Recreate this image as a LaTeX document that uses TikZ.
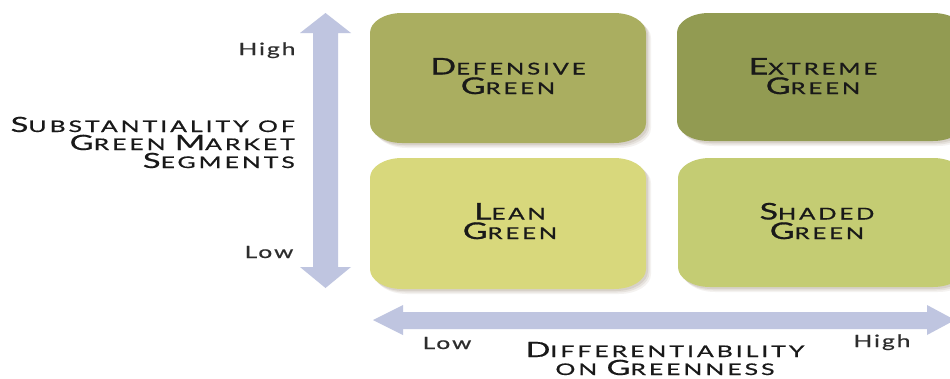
\documentclass[tikz,border=0pt]{standalone}
\usepackage{graphicx}
\usepackage{fontspec}
\setmainfont{Lato}
\newfontfamily\boxfont{Lato}[LetterSpace=12,FakeBold=0.8]
\newfontfamily\axfont{Lato}[LetterSpace=12,FakeBold=0.6]
\newfontfamily\hlfont{Lato}[LetterSpace=8,FakeBold=0.5]
\definecolor{arrowc}{RGB}{191,197,224}
\definecolor{defc}{RGB}{170,174,96}
\definecolor{extc}{RGB}{146,155,82}
\definecolor{leanc}{RGB}{216,216,124}
\definecolor{shadc}{RGB}{196,204,115}
\definecolor{shadowc}{RGB}{150,132,112}
\definecolor{txtc}{RGB}{25,25,25}
\definecolor{hlc}{RGB}{45,45,45}
\newcommand{\BoxSC}[2]{\scalebox{1.47}[1]{{\fontsize{23}{23}\selectfont #1}{\fontsize{16.3}{16.3}\selectfont #2}}}
\newcommand{\AxSC}[2]{{\fontsize{21}{21}\selectfont #1}{\fontsize{16}{16}\selectfont #2}}
\newcommand{\AxSm}[1]{{\fontsize{16}{16}\selectfont #1}}
\newcommand{\AxLine}[1]{\scalebox{1.55}[1]{#1}}
\newcommand{\HL}[1]{\scalebox{1.45}[1]{#1}}
\newcommand{\GPath}[5]{%
  \fill[#5] ({#1+32},{#2}) -- ({#3-32},{#2})
    .. controls ({#3-14},{#2}) and ({#3},{#2+9}) .. ({#3},{#2+20})
    -- ({#3},{#4-20})
    .. controls ({#3},{#4-9}) and ({#3-14},{#4}) .. ({#3-32},{#4})
    -- ({#1+32},{#4})
    .. controls ({#1+14},{#4}) and ({#1},{#4-9}) .. ({#1},{#4-20})
    -- ({#1},{#2+20})
    .. controls ({#1},{#2+9}) and ({#1+14},{#2}) .. ({#1+32},{#2}) -- cycle;}
\newcommand{\GBox}[5]{%
  \GPath{#1}{#2}{#3}{#4}{shadowc,opacity=0.10,xshift=5pt,yshift=-5pt}
  \GPath{#1}{#2}{#3}{#4}{shadowc,opacity=0.14,xshift=3.5pt,yshift=-3.5pt}
  \GPath{#1}{#2}{#3}{#4}{shadowc,opacity=0.18,xshift=2pt,yshift=-2pt}
  \GPath{#1}{#2}{#3}{#4}{#5}}
\tikzset{
  boxtxt/.style={font=\boxfont\fontsize{16.3}{19.5}\selectfont, text=txtc, inner sep=0pt, align=center, anchor=base},
  axtxt/.style={font=\axfont\fontsize{16}{18}\selectfont, text=txtc, inner sep=0pt},
  hltxt/.style={font=\hlfont\fontsize{17}{17}\selectfont, text=hlc, inner sep=0pt, anchor=base}
}
\begin{document}
\begin{tikzpicture}[x=1pt,y=-1pt]
\useasboundingbox (0,0) rectangle (950,378);
\clip (0,0) rectangle (950,378);
\fill[white] (0,0) rectangle (950,378);
% axis arrows
\fill[arrowc] (325.5,13) -- (351,33) -- (338,33) -- (338,267) -- (351,267)
  -- (325.5,288) -- (300,267) -- (313,267) -- (313,33) -- (300,33) -- cycle;
\fill[arrowc] (373,320) -- (403,305) -- (403,312) -- (927,312) -- (927,305)
  -- (955,320) -- (927,335) -- (927,329) -- (403,329) -- (403,335) -- cycle;
% quadrant boxes
\GBox{370}{13}{646}{143}{defc}
\GBox{677}{13}{965}{141}{extc}
\GBox{370}{158}{646}{289}{leanc}
\GBox{678}{158}{965}{287}{shadc}
% box texts (anchor = baseline of the last line)
\node[boxtxt] (def) at (508,94) {\BoxSC{D}{EFENSIVE}\\\BoxSC{G}{REEN}};
\node[boxtxt] (ext) at (813,94) {\BoxSC{E}{XTREME}\\\BoxSC{G}{REEN}};
\node[boxtxt] (lean) at (510,239) {\BoxSC{L}{EAN}\\\BoxSC{G}{REEN}};
\node[boxtxt] (shad) at (817,239) {\BoxSC{S}{HADED}\\\BoxSC{G}{REEN}};
% y axis label
\node[axtxt, align=right, anchor=base east] (ylab) at (295,168)
  {\AxLine{\AxSC{S}{UBSTANTIALITY} \AxSm{OF}}\\\AxLine{\AxSC{G}{REEN} \AxSC{M}{ARKET}}\\\AxLine{\AxSC{S}{EGMENTS}}};
% x axis label
\node[axtxt, align=center, anchor=base] (xlab) at (665,375)
  {\AxLine{\AxSC{D}{IFFERENTIABILITY}}\\\AxLine{\AxSm{ON} \AxSC{G}{REENNESS}}};
% high / low
\node[hltxt] (yhigh) at (267,55) {\HL{High}};
\node[hltxt] (ylow) at (269,258) {\HL{Low}};
\node[hltxt] (xlow) at (447,349) {\HL{Low}};
\node[hltxt] (xhigh) at (882,347) {\HL{High}};
\end{tikzpicture}
\end{document}
